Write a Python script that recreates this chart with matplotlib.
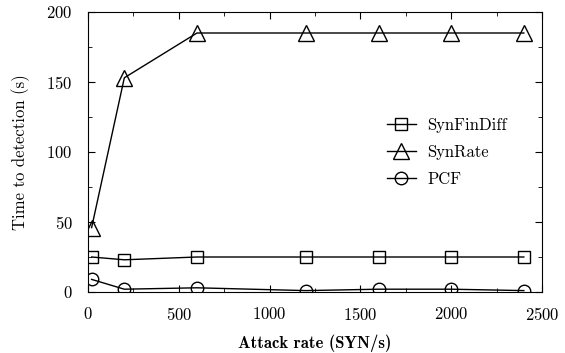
import numpy as np
import matplotlib.pyplot as plt

plt.rcParams['font.family'] = 'serif'
plt.rcParams['font.serif'] = ['cmr10']
plt.rcParams['mathtext.fontset'] = 'cm'
plt.rcParams['axes.formatter.use_mathtext'] = True

rate = [20, 200, 600, 1200, 1600, 2000, 2400]
synfindiff = [25, 23, 25, 25, 25, 25, 25]
synrate = [46, 153, 185, 185, 185, 185, 185]
pcf = [9, 2, 3, 1, 2, 2, 1]

fig = plt.figure(figsize=(5.65, 3.53), dpi=100)
# plot box: x 88..542 px, y 12..292 px
ax = fig.add_axes([88/565, 1 - 292/353, 454/565, 280/353])

ax.plot(rate, synfindiff, marker='s', ms=8.6, mfc='none', mec='black', mew=1, color='black', lw=1, label='SynFinDiff')
ax.plot(rate, synrate, marker='^', ms=12, mfc='none', mec='black', mew=1, color='black', lw=1, label='SynRate')
ax.plot(rate, pcf, marker='o', ms=9, mfc='none', mec='black', mew=1, color='black', lw=1, label='PCF')

ax.set_xlim(0, 2500)
ax.set_ylim(0, 200)
ax.set_xticks([0, 500, 1000, 1500, 2000, 2500])
ax.set_yticks([0, 50, 100, 150, 200])
ax.set_xticks(np.arange(0, 2501, 250), minor=True)
ax.set_yticks(np.arange(0, 201, 25), minor=True)
ax.tick_params(which='both', direction='in', top=True, right=True, labelsize=12)
ax.tick_params(axis='x', pad=10)
ax.tick_params(axis='y', pad=11)
ax.tick_params(which='major', length=5)
ax.tick_params(which='minor', length=3)

ax.set_xlabel('Attack rate (SYN/s)', fontsize=12, labelpad=8)
ax.xaxis.label.set_fontfamily(['cmb10'])
ax.set_ylabel('Time to detection (s)', fontsize=12, labelpad=12)

ax.legend(loc='center left', bbox_to_anchor=(0.659, 0.5), frameon=False, fontsize=12,
          borderpad=0, borderaxespad=0, handlelength=1.7, handletextpad=0.7,
          labelspacing=0.7, numpoints=1)

fig.savefig('out.png', dpi=100)
